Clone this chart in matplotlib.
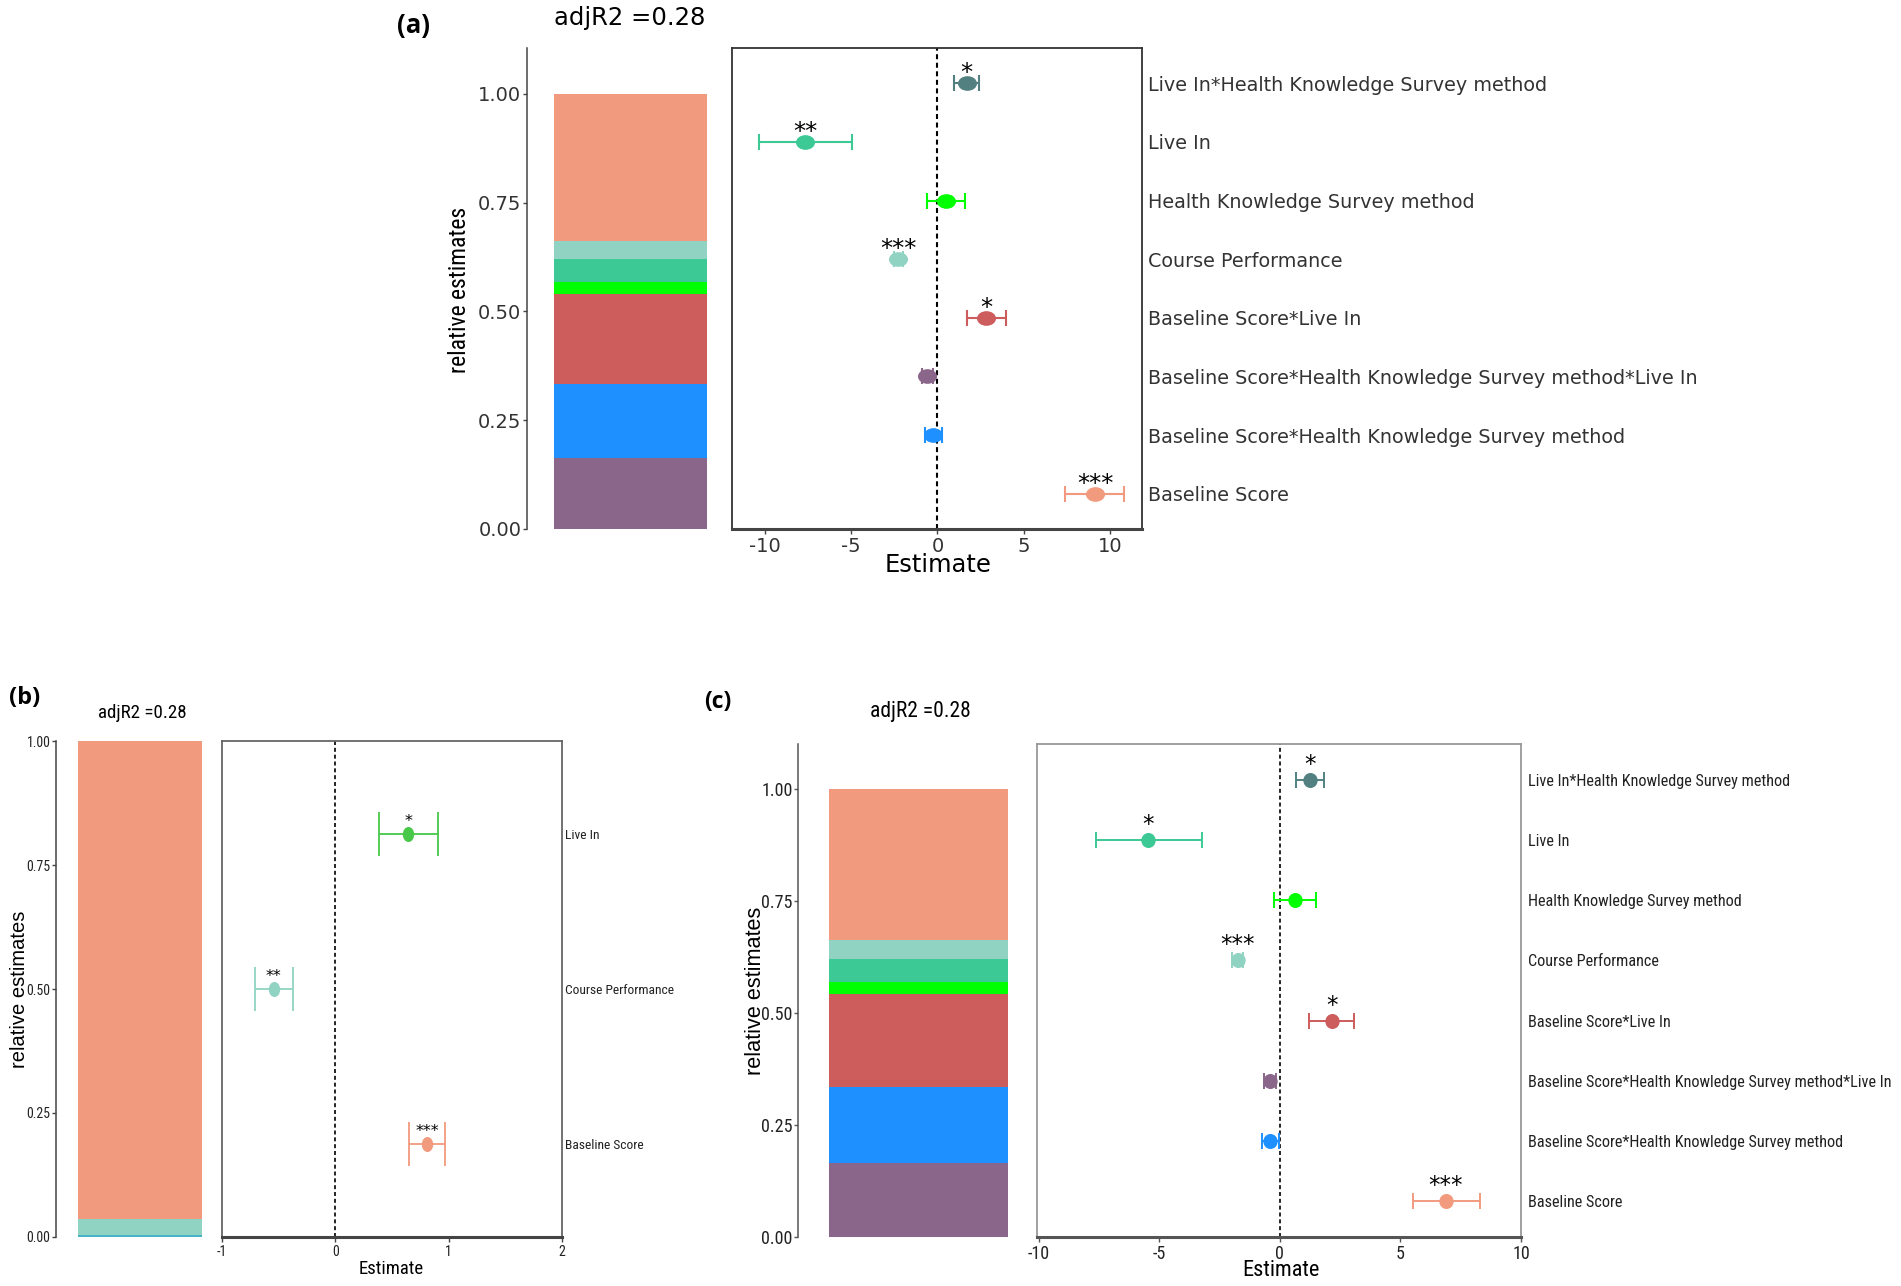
import matplotlib
matplotlib.use("Agg")
import matplotlib.pyplot as plt
from matplotlib import font_manager
from matplotlib.path import Path
import numpy as np

plt.rcParams['axes.unicode_minus'] = False

# -----------------------------
# Data
# -----------------------------
TERMS_FULL = [
    "Live In*Health Knowledge Survey method",
    "Live In",
    "Health Knowledge Survey method",
    "Course Performance",
    "Baseline Score*Live In",
    "Baseline Score*Health Knowledge Survey method*Live In",
    "Baseline Score*Health Knowledge Survey method",
    "Baseline Score",
]

# panel (a)
A_EST = [1.70, -7.65, 0.48, -2.26, 2.83, -0.60, -0.27, 9.14]
A_LO = [0.95, -10.36, -0.60, -2.50, 1.73, -0.92, -0.74, 7.41]
A_HI = [2.38, -4.94, 1.58, -2.00, 3.96, -0.24, 0.24, 10.80]
A_SIG = ["*", "**", "", "***", "*", "", "", "***"]
A_REL = [0.000, 0.053, 0.027, 0.040, 0.208, 0.164, 0.169, 0.339]

# panel (b)
TERMS_B = ["Live In", "Course Performance", "Baseline Score"]
B_EST = [0.644, -0.545, 0.81]
B_LO = [0.383, -0.711, 0.648]
B_HI = [0.909, -0.375, 0.968]
B_SIG = ["*", "**", "***"]
B_REL = [0.004, 0.032, 0.964]

# panel (c)
C_EST = [1.24, -5.45, 0.61, -1.75, 2.17, -0.41, -0.41, 6.88]
C_LO = [0.67, -7.61, -0.25, -1.97, 1.21, -0.67, -0.73, 5.51]
C_HI = [1.85, -3.22, 1.50, -1.53, 3.06, -0.16, -0.03, 8.31]
C_SIG = ["*", "*", "", "***", "*", "", "", "***"]
C_REL = [0.000, 0.051, 0.027, 0.043, 0.208, 0.164, 0.170, 0.337]

ADJ_R2 = [0.28, 0.28, 0.28]

# stacking order of the relative-estimate bar, bottom -> top
STACK_FULL = [
    "Baseline Score*Health Knowledge Survey method*Live In",
    "Baseline Score*Health Knowledge Survey method",
    "Baseline Score*Live In",
    "Health Knowledge Survey method",
    "Live In",
    "Course Performance",
    "Baseline Score",
]
STACK_B = ["Live In", "Course Performance", "Baseline Score"]

COLORS = {
    "Live In*Health Knowledge Survey method": "#528080",
    "Live In": "#3CC995",
    "Health Knowledge Survey method": "#00FF00",
    "Course Performance": "#90D3C2",
    "Baseline Score*Live In": "#CD5C5C",
    "Baseline Score*Health Knowledge Survey method*Live In": "#8B668B",
    "Baseline Score*Health Knowledge Survey method": "#1E90FF",
    "Baseline Score": "#F29A7E",
}
COLORS_B_PTS = {"Live In": "#48C848", "Course Performance": "#90D3C2",
                "Baseline Score": "#F29A7E"}
COLORS_B_BAR = {"Live In": "#45B4C6", "Course Performance": "#90D3C2",
                "Baseline Score": "#F29A7E"}

# -----------------------------
# Fonts
# -----------------------------
avail = {f.name for f in font_manager.fontManager.ttflist}
NARROW = next((n for n in ["Liberation Sans Narrow", "Arial Narrow", "Roboto Condensed"]
               if n in avail), "Liberation Sans")
ARIAL = "Liberation Sans"
WIDE = "DejaVu Sans"
LBL = "Open Sans" if "Open Sans" in avail else "DejaVu Sans"

W, H = 1901, 1286
fig = plt.figure(figsize=(W / 100, H / 100), dpi=100)


def rect(L, T, R, B):
    return [L / W, 1 - B / H, (R - L) / W, (B - T) / H]


def ellipse_marker(sx, sy):
    c = Path.unit_circle()
    return Path(c.vertices * np.array([sx, sy]), c.codes)


def draw_panel(bar_box, forest_box, terms, est, lo, hi, sig, rel, stack,
               pt_cols, bar_cols, bar_top, xlim, xticks, st):
    axb = fig.add_axes(rect(*bar_box))
    axf = fig.add_axes(rect(*forest_box))

    # stacked relative estimates
    rel_map = dict(zip(terms, rel))
    bottom = 0.0
    for t in stack:
        v = rel_map[t]
        axb.bar(0.13, v, width=0.75, bottom=bottom, align='edge',
                color=bar_cols[t], linewidth=0)
        bottom += v
    axb.set_xlim(0, 1)
    axb.set_ylim(0, bar_top)
    axb.set_xticks([])
    axb.set_yticks([0, 0.25, 0.5, 0.75, 1.0])
    axb.set_yticklabels(["0.00", "0.25", "0.50", "0.75", "1.00"])
    for s in ["top", "right", "bottom"]:
        axb.spines[s].set_visible(False)
    axb.spines["left"].set_color(st["spine"])
    axb.spines["left"].set_linewidth(1.1)
    axb.tick_params(axis='y', length=3, width=1, color=st["spine"], pad=1,
                    labelsize=st["tick_fs"], labelcolor=st["txt"],
                    labelfontfamily=st["tick_font"])
    axb.set_ylabel("relative estimates", fontsize=st["ylab_fs"], family=st["ylab_font"],
                   fontweight=st["ylab_w"], va='center', color='black')
    axb.yaxis.set_label_coords(*st["ylab_xy"])

    # forest plot
    n = len(terms)
    ypos = np.arange(n, 0, -1)
    for i, t in enumerate(terms):
        c = pt_cols[t]
        axf.errorbar(est[i], ypos[i], xerr=[[est[i] - lo[i]], [hi[i] - est[i]]],
                     fmt='none', ecolor=c, elinewidth=st["elw"], capsize=st["cap"],
                     capthick=st["elw"], zorder=3)
        axf.plot(est[i], ypos[i], marker=st["marker"], ms=st["ms"], color=c,
                 linestyle='none', zorder=4)
        if sig[i]:
            axf.annotate(sig[i], (est[i], ypos[i]), xytext=(0, st["star_off"]),
                         textcoords='offset points', ha='center', va='baseline',
                         fontsize=st["star_fs"], family=WIDE, color='black', zorder=5)
    axf.axvline(0, color='black', linewidth=st["dash_lw"], linestyle=(0, (2.4, 1.7)),
                zorder=2)
    axf.set_xlim(*xlim)
    axf.set_ylim(0.4, n + 0.6)
    axf.set_xticks(xticks)
    axf.set_xticklabels([str(x) for x in xticks])
    axf.set_yticks(ypos)
    axf.set_yticklabels(terms)
    axf.yaxis.tick_right()
    axf.tick_params(axis='y', length=0, pad=st["lab_pad"], labelsize=st["lab_fs"],
                    labelcolor=st["txt"], labelfontfamily=st["lab_font"])
    axf.tick_params(axis='x', length=3.5, width=1, color=st["spine"], pad=2.5,
                    labelsize=st["tick_fs"], labelcolor=st["txt"],
                    labelfontfamily=st["tick_font"])
    for s in ["top", "right", "left"]:
        axf.spines[s].set_color(st["box"])
        axf.spines[s].set_linewidth(1.3)
    axf.spines["bottom"].set_color(st["spine"])
    axf.spines["bottom"].set_linewidth(2.2)
    axf.set_xlabel("Estimate", fontsize=st["xlab_fs"], family=st["xlab_font"],
                   va='center', color='black')
    axf.xaxis.set_label_coords(*st["xlab_xy"])
    return axb, axf


style_a = dict(spine="#444444", box="#333333", txt="#333333",
               tick_fs=14, tick_font=WIDE, lab_fs=13.8, lab_font=WIDE, lab_pad=4.3,
               ylab_fs=17, ylab_font=NARROW, ylab_w='normal', ylab_xy=(-0.329, 0.497),
               xlab_fs=17.5, xlab_font=WIDE, xlab_xy=(0.502, -0.075),
               elw=1.5, cap=6.1, ms=12.7, marker=ellipse_marker(1.0, 0.75),
               star_fs=17.5, star_off=2.2, dash_lw=1.5)
style_b = dict(spine="#444444", box="#666666", txt="#222222",
               tick_fs=10, tick_font=NARROW, lab_fs=9.7, lab_font=NARROW, lab_pad=2,
               ylab_fs=14.5, ylab_font=ARIAL, ylab_w='normal', ylab_xy=(-0.217, 0.5),
               xlab_fs=13.5, xlab_font=NARROW, xlab_xy=(0.497, -0.064),
               elw=1.3, cap=16, ms=9.8, marker=ellipse_marker(0.73, 1.0),
               star_fs=11.5, star_off=5.5, dash_lw=1.2)
style_c = dict(spine="#555555", box="#999999", txt="#222222",
               tick_fs=13, tick_font=NARROW, lab_fs=11.7, lab_font=NARROW, lab_pad=5,
               ylab_fs=15.6, ylab_font=ARIAL, ylab_w='normal', ylab_xy=(-0.178, 0.499),
               xlab_fs=16, xlab_font=NARROW, xlab_xy=(0.503, -0.068),
               elw=1.4, cap=6.1, ms=9.8, marker=ellipse_marker(0.95, 1.0),
               star_fs=16.5, star_off=6.5, dash_lw=1.2)

draw_panel((527, 48, 732, 529), (732, 48, 1142, 529), TERMS_FULL, A_EST, A_LO, A_HI,
           A_SIG, A_REL, STACK_FULL, COLORS, COLORS, 1.105, (-11.9, 11.85),
           [-10, -5, 0, 5, 10], style_a)
draw_panel((56, 741, 222, 1237), (222, 741, 562, 1237), TERMS_B, B_EST, B_LO, B_HI,
           B_SIG, B_REL, STACK_B, COLORS_B_PTS, COLORS_B_BAR, 1.0, (-1, 2),
           [-1, 0, 1, 2], style_b)
draw_panel((798, 744, 1037, 1237), (1037, 744, 1521, 1237), TERMS_FULL, C_EST, C_LO, C_HI,
           C_SIG, C_REL, STACK_FULL, COLORS, COLORS, 1.1, (-10.07, 10.0),
           [-10, -5, 0, 5, 10], style_c)

# panel letters and adjR2 titles
fig.text(397 / W, 1 - 25 / H, "(a)", fontsize=18.5, fontweight='bold', family=LBL,
         ha='left', va='center')
fig.text(9 / W, 1 - 698 / H, "(b)", fontsize=17, fontweight='bold', family=LBL,
         ha='left', va='center')
fig.text(704 / W, 1 - 702 / H, "(c)", fontsize=16.5, fontweight='bold', family=LBL,
         ha='left', va='center')

fig.text(630 / W, 1 - 18 / H, f"adjR2 ={ADJ_R2[0]:.2f}", fontsize=17.5, family=WIDE,
         ha='center', va='center')
fig.text(142 / W, 1 - 713 / H, f"adjR2 ={ADJ_R2[1]:.2f}", fontsize=13.6, family=NARROW,
         ha='center', va='center')
fig.text(920 / W, 1 - 712 / H, f"adjR2 ={ADJ_R2[2]:.2f}", fontsize=15.5, family=NARROW,
         ha='center', va='center')

fig.savefig("out.png", dpi=100)
